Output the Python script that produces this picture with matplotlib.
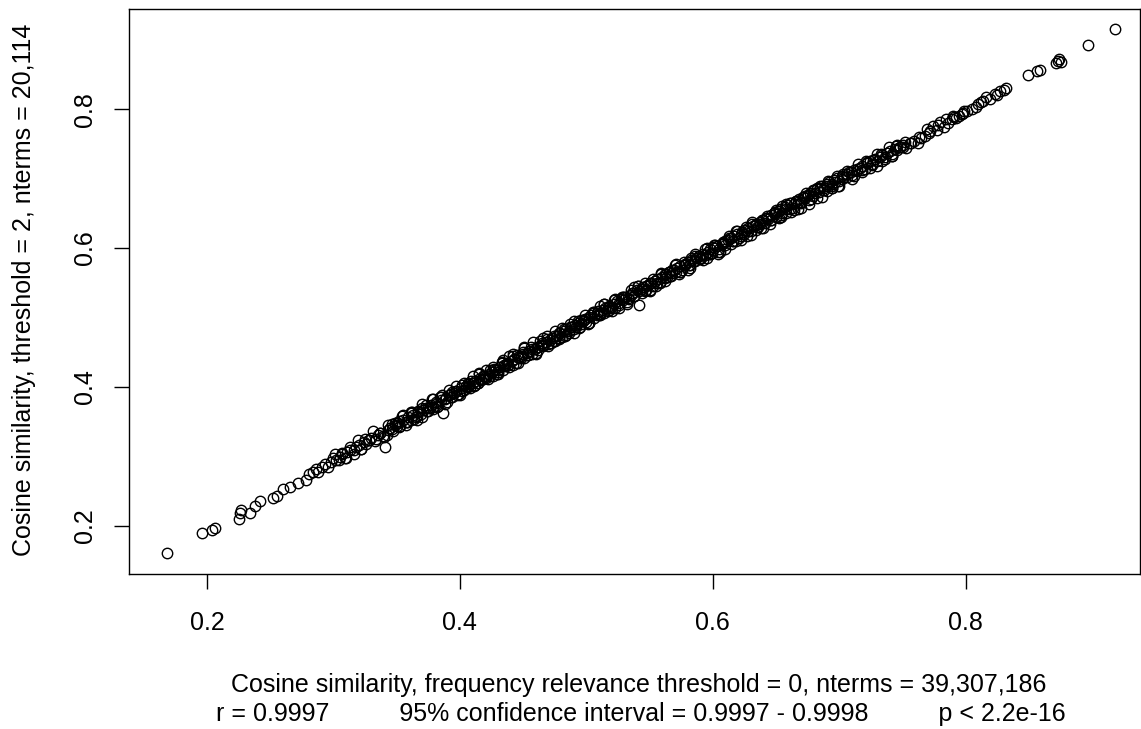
#!/usr/bin/env python3
"""Cosine similarity: threshold 0 vs threshold 2 (R base-graphics look)."""
import matplotlib
matplotlib.use("Agg")
import matplotlib.pyplot as plt

plt.rcParams["font.family"] = ["Liberation Sans", "DejaVu Sans"]

# x: cosine similarity, frequency relevance threshold = 0
# y: cosine similarity, threshold = 2
# points
xs_line = [
    0.168, 0.196, 0.204, 0.206, 0.225, 0.226, 0.227, 0.234, 0.238, 0.242,
    0.252, 0.255, 0.260, 0.266, 0.272, 0.278,
    0.281, 0.284, 0.286, 0.288, 0.291, 0.293, 0.296, 0.298, 0.300, 0.302,
    0.305, 0.307, 0.309, 0.311, 0.313, 0.316, 0.318, 0.320, 0.322, 0.324,
    0.326, 0.328, 0.330, 0.333, 0.335, 0.337, 0.339, 0.341, 0.343, 0.345,
    0.347, 0.349, 0.351, 0.353, 0.355, 0.357, 0.359, 0.361, 0.363, 0.365,
    0.367, 0.369, 0.371, 0.373, 0.375, 0.377, 0.379, 0.381, 0.383, 0.385,
    0.387, 0.389, 0.391, 0.393, 0.395, 0.397, 0.399, 0.401, 0.403, 0.405,
    0.407, 0.408, 0.410, 0.412, 0.414, 0.415, 0.417, 0.419, 0.421, 0.423,
    0.425, 0.426, 0.428, 0.430, 0.432, 0.434, 0.435, 0.437, 0.439, 0.441,
    0.443, 0.444, 0.446, 0.448, 0.450, 0.451, 0.453, 0.455, 0.457, 0.459,
    0.461, 0.462, 0.464, 0.466, 0.468, 0.470, 0.471, 0.473, 0.475, 0.477,
    0.479, 0.481, 0.482, 0.484, 0.486, 0.488, 0.490, 0.491, 0.493, 0.495,
    0.497, 0.499, 0.500, 0.502, 0.504, 0.506, 0.508, 0.509, 0.511, 0.513,
    0.515, 0.517, 0.518, 0.520, 0.522, 0.524, 0.526, 0.527, 0.529, 0.531,
    0.533, 0.535, 0.536, 0.538, 0.540, 0.542, 0.544, 0.545, 0.547, 0.549,
    0.551, 0.553, 0.554, 0.556, 0.558, 0.560, 0.562, 0.563, 0.565, 0.567,
    0.569, 0.571, 0.572, 0.574, 0.576, 0.578, 0.580, 0.581, 0.583, 0.585,
    0.587, 0.589, 0.590, 0.592, 0.594, 0.596, 0.598, 0.599, 0.601, 0.603,
    0.605, 0.607, 0.608, 0.610, 0.612, 0.614, 0.616, 0.617, 0.619, 0.621,
    0.623, 0.625, 0.626, 0.628, 0.630, 0.632, 0.634, 0.635, 0.637, 0.639,
    0.641, 0.643, 0.644, 0.646, 0.648, 0.650, 0.652, 0.653, 0.655, 0.657,
    0.659, 0.661, 0.662, 0.664, 0.666, 0.668, 0.670, 0.671, 0.673, 0.675,
    0.677, 0.679, 0.680, 0.682, 0.684, 0.686, 0.688, 0.690, 0.692, 0.694,
    0.696, 0.698, 0.700, 0.702, 0.704, 0.706, 0.708, 0.710, 0.712, 0.714,
    0.716, 0.718, 0.720, 0.722, 0.724, 0.726, 0.728, 0.730, 0.732, 0.734,
    0.736, 0.738, 0.740, 0.742, 0.744, 0.746, 0.748, 0.750, 0.753, 0.756,
    0.759, 0.762, 0.765, 0.768, 0.771, 0.774, 0.777, 0.780, 0.783, 0.786,
    0.789, 0.790, 0.792, 0.795, 0.798, 0.801, 0.805, 0.808, 0.810, 0.812,
    0.814, 0.816, 0.819, 0.823, 0.825, 0.827, 0.830, 0.832, 0.849, 0.856,
    0.859, 0.871, 0.873, 0.874, 0.875, 0.897, 0.918,
]
ys_line = [
    0.160, 0.190, 0.194, 0.197, 0.210, 0.218, 0.222, 0.219, 0.229, 0.235,
    0.240, 0.243, 0.253, 0.256, 0.262, 0.266,
    0.274, 0.278, 0.281, 0.277, 0.285, 0.289, 0.284, 0.292, 0.297, 0.294,
    0.299, 0.303, 0.298, 0.306, 0.309, 0.304, 0.313, 0.316, 0.311, 0.320,
    0.318, 0.324, 0.327, 0.322, 0.331, 0.334, 0.329, 0.313, 0.338, 0.341,
    0.336, 0.345, 0.348, 0.343, 0.352, 0.349, 0.356, 0.353, 0.360, 0.357,
    0.364, 0.361, 0.367, 0.370, 0.365, 0.374, 0.371, 0.378, 0.373, 0.381,
    0.362, 0.384, 0.388, 0.385, 0.391, 0.394, 0.390, 0.398, 0.396, 0.401,
    0.404, 0.399, 0.406, 0.409, 0.405, 0.412, 0.410, 0.415, 0.413, 0.418,
    0.421, 0.416, 0.424, 0.422, 0.428, 0.425, 0.431, 0.434, 0.429, 0.437,
    0.440, 0.435, 0.443, 0.441, 0.447, 0.456, 0.449, 0.452, 0.448, 0.455,
    0.458, 0.453, 0.461, 0.459, 0.465, 0.462, 0.468, 0.471, 0.466, 0.474,
    0.477, 0.472, 0.480, 0.483, 0.478, 0.486, 0.484, 0.489, 0.492, 0.487,
    0.495, 0.498, 0.493, 0.500, 0.503, 0.499, 0.506, 0.509, 0.504, 0.511,
    0.514, 0.510, 0.517, 0.515, 0.520, 0.524, 0.518, 0.527, 0.525, 0.530,
    0.528, 0.533, 0.536, 0.531, 0.539, 0.518, 0.541, 0.544, 0.539, 0.547,
    0.550, 0.545, 0.553, 0.556, 0.551, 0.559, 0.557, 0.562, 0.565, 0.560,
    0.568, 0.566, 0.571, 0.574, 0.569, 0.577, 0.580, 0.575, 0.583, 0.581,
    0.586, 0.589, 0.584, 0.592, 0.590, 0.595, 0.598, 0.593, 0.600, 0.603,
    0.599, 0.606, 0.609, 0.604, 0.611, 0.614, 0.610, 0.617, 0.620, 0.615,
    0.623, 0.621, 0.626, 0.629, 0.624, 0.632, 0.635, 0.630, 0.638, 0.641,
    0.636, 0.644, 0.642, 0.647, 0.650, 0.645, 0.653, 0.656, 0.651, 0.659,
    0.662, 0.657, 0.665, 0.663, 0.668, 0.671, 0.666, 0.674, 0.672, 0.677,
    0.680, 0.675, 0.683, 0.686, 0.681, 0.689, 0.687, 0.692, 0.695, 0.690,
    0.698, 0.701, 0.696, 0.704, 0.702, 0.707, 0.710, 0.705, 0.713, 0.711,
    0.716, 0.719, 0.714, 0.722, 0.725, 0.720, 0.728, 0.726, 0.731, 0.734,
    0.729, 0.737, 0.740, 0.735, 0.743, 0.741, 0.746, 0.749, 0.744, 0.752,
    0.755, 0.751, 0.758, 0.762, 0.766, 0.776, 0.770, 0.782, 0.775, 0.780,
    0.786, 0.790, 0.788, 0.790, 0.795, 0.798, 0.801, 0.804, 0.807, 0.810,
    0.812, 0.817, 0.815, 0.822, 0.820, 0.826, 0.828, 0.830, 0.849, 0.855,
    0.857, 0.866, 0.869, 0.872, 0.868, 0.892, 0.916,
]
# extra points filling the thick middle of the band
xs_band = [
    0.301, 0.304, 0.307, 0.310, 0.313, 0.316, 0.319, 0.322, 0.325, 0.328,
    0.331, 0.334, 0.337, 0.340, 0.343, 0.346, 0.349, 0.352, 0.355, 0.358,
    0.361, 0.364, 0.367, 0.370, 0.373, 0.376, 0.379, 0.382, 0.385, 0.388,
    0.391, 0.394, 0.397, 0.400, 0.403, 0.406, 0.409, 0.412, 0.415, 0.418,
    0.421, 0.424, 0.427, 0.430, 0.433, 0.436, 0.439, 0.442, 0.445, 0.448,
    0.451, 0.454, 0.457, 0.460, 0.463, 0.466, 0.469, 0.472, 0.475, 0.478,
    0.481, 0.484, 0.487, 0.490, 0.493, 0.496, 0.499, 0.502, 0.505, 0.508,
    0.511, 0.514, 0.517, 0.520, 0.523, 0.526, 0.529, 0.532, 0.535, 0.538,
    0.541, 0.544, 0.547, 0.550, 0.553, 0.556, 0.559, 0.562, 0.565, 0.568,
    0.571, 0.574, 0.577, 0.580, 0.583, 0.586, 0.589, 0.592, 0.595, 0.598,
    0.601, 0.604, 0.607, 0.610, 0.613, 0.616, 0.619, 0.622, 0.625, 0.628,
    0.631, 0.634, 0.637, 0.640, 0.643, 0.646, 0.649, 0.652, 0.655, 0.658,
    0.661, 0.664, 0.667, 0.670, 0.673, 0.676, 0.679, 0.682, 0.685, 0.688,
    0.691, 0.694, 0.697, 0.700, 0.703, 0.706, 0.709, 0.712, 0.715, 0.718,
    0.721, 0.724, 0.727, 0.730, 0.733, 0.736, 0.739, 0.742, 0.745, 0.748,
    0.752, 0.757, 0.763, 0.769, 0.772, 0.778, 0.784, 0.791, 0.797, 0.799,
]
ys_band = [
    0.304, 0.294, 0.305, 0.297, 0.314, 0.309, 0.323, 0.311, 0.325, 0.323,
    0.336, 0.325, 0.334, 0.328, 0.345, 0.340, 0.348, 0.342, 0.359, 0.350,
    0.364, 0.354, 0.365, 0.357, 0.374, 0.369, 0.383, 0.371, 0.385, 0.383,
    0.396, 0.385, 0.394, 0.389, 0.406, 0.401, 0.409, 0.403, 0.420, 0.411,
    0.425, 0.415, 0.426, 0.418, 0.435, 0.430, 0.444, 0.432, 0.446, 0.444,
    0.457, 0.446, 0.455, 0.449, 0.466, 0.461, 0.469, 0.463, 0.480, 0.471,
    0.485, 0.475, 0.486, 0.478, 0.495, 0.490, 0.504, 0.492, 0.506, 0.504,
    0.517, 0.506, 0.515, 0.509, 0.526, 0.521, 0.529, 0.523, 0.540, 0.531,
    0.545, 0.535, 0.546, 0.538, 0.555, 0.550, 0.564, 0.552, 0.566, 0.564,
    0.577, 0.566, 0.575, 0.569, 0.586, 0.581, 0.589, 0.583, 0.600, 0.591,
    0.605, 0.595, 0.606, 0.598, 0.615, 0.610, 0.624, 0.612, 0.626, 0.624,
    0.637, 0.626, 0.635, 0.629, 0.646, 0.641, 0.649, 0.643, 0.660, 0.651,
    0.665, 0.655, 0.666, 0.658, 0.675, 0.670, 0.684, 0.672, 0.686, 0.684,
    0.697, 0.686, 0.695, 0.689, 0.707, 0.702, 0.710, 0.704, 0.721, 0.712,
    0.726, 0.716, 0.727, 0.719, 0.736, 0.731, 0.745, 0.733, 0.747, 0.745,
    0.753, 0.751, 0.760, 0.771, 0.768, 0.777, 0.786, 0.789, 0.793, 0.797,
]
xs_core = [
    0.342, 0.346, 0.350, 0.354, 0.358, 0.362, 0.366, 0.370, 0.374, 0.378,
    0.382, 0.386, 0.390, 0.394, 0.398, 0.402, 0.406, 0.410, 0.414, 0.418,
    0.422, 0.426, 0.430, 0.434, 0.438, 0.442, 0.446, 0.450, 0.454, 0.458,
    0.462, 0.466, 0.470, 0.474, 0.478, 0.482, 0.486, 0.490, 0.494, 0.498,
    0.502, 0.506, 0.510, 0.514, 0.518, 0.522, 0.526, 0.530, 0.534, 0.538,
    0.542, 0.546, 0.550, 0.554, 0.558, 0.562, 0.566, 0.570, 0.574, 0.578,
    0.582, 0.586, 0.590, 0.594, 0.598, 0.602, 0.606, 0.610, 0.614, 0.618,
    0.622, 0.626, 0.630, 0.634, 0.638, 0.642, 0.646, 0.650, 0.654, 0.658,
    0.662, 0.666, 0.670, 0.674, 0.678, 0.682, 0.686, 0.690, 0.694, 0.698,
    0.702, 0.706, 0.710, 0.714, 0.718, 0.722, 0.726, 0.730, 0.734, 0.738,
    0.742, 0.746, 0.750,
]
ys_core = [
    0.331, 0.347, 0.344, 0.358, 0.350, 0.364, 0.353, 0.369, 0.365, 0.383,
    0.377, 0.389, 0.378, 0.392, 0.388, 0.403, 0.400, 0.415, 0.405, 0.416,
    0.412, 0.428, 0.425, 0.439, 0.431, 0.445, 0.434, 0.450, 0.446, 0.464,
    0.458, 0.470, 0.459, 0.473, 0.469, 0.483, 0.480, 0.495, 0.485, 0.496,
    0.492, 0.508, 0.505, 0.519, 0.511, 0.525, 0.514, 0.530, 0.526, 0.544,
    0.538, 0.550, 0.539, 0.553, 0.549, 0.563, 0.560, 0.575, 0.565, 0.576,
    0.572, 0.588, 0.585, 0.599, 0.591, 0.605, 0.594, 0.610, 0.606, 0.624,
    0.618, 0.630, 0.619, 0.633, 0.629, 0.643, 0.640, 0.655, 0.645, 0.656,
    0.652, 0.668, 0.665, 0.679, 0.671, 0.685, 0.674, 0.690, 0.686, 0.704,
    0.699, 0.711, 0.700, 0.714, 0.710, 0.724, 0.721, 0.736, 0.726, 0.737,
    0.733, 0.749, 0.746,
]
xs_fill = [
    0.352, 0.357, 0.361, 0.366, 0.370, 0.375, 0.379, 0.384, 0.388, 0.393,
    0.397, 0.402, 0.406, 0.411, 0.415, 0.420, 0.424, 0.429, 0.433, 0.438,
    0.442, 0.447, 0.451, 0.456, 0.460, 0.465, 0.469, 0.474, 0.478, 0.483,
    0.487, 0.492, 0.496, 0.501, 0.505, 0.510, 0.514, 0.519, 0.523, 0.528,
    0.532, 0.537, 0.541, 0.546, 0.550, 0.555, 0.559, 0.564, 0.568, 0.573,
    0.577, 0.582, 0.586, 0.591, 0.595, 0.600, 0.604, 0.609, 0.613, 0.618,
    0.622, 0.627, 0.631, 0.636, 0.640, 0.645, 0.649, 0.654, 0.658, 0.663,
    0.667, 0.672, 0.676, 0.681, 0.685, 0.690, 0.694, 0.699,
]
ys_fill = [
    0.351, 0.345, 0.363, 0.358, 0.375, 0.369, 0.368, 0.385, 0.375, 0.390,
    0.401, 0.394, 0.405, 0.402, 0.419, 0.414, 0.424, 0.418, 0.436, 0.431,
    0.448, 0.442, 0.441, 0.458, 0.448, 0.463, 0.474, 0.466, 0.477, 0.474,
    0.491, 0.486, 0.496, 0.490, 0.508, 0.503, 0.520, 0.514, 0.513, 0.530,
    0.520, 0.535, 0.546, 0.538, 0.549, 0.546, 0.563, 0.558, 0.568, 0.562,
    0.580, 0.575, 0.592, 0.586, 0.585, 0.602, 0.592, 0.607, 0.618, 0.610,
    0.621, 0.618, 0.635, 0.630, 0.640, 0.634, 0.652, 0.647, 0.664, 0.658,
    0.657, 0.674, 0.664, 0.679, 0.690, 0.682, 0.693, 0.690,
]
ticks = [0.2, 0.4, 0.6, 0.8]

xlab = "Cosine similarity, frequency relevance threshold = 0, nterms = 39,307,186"
stats = "r = 0.9997          95% confidence interval = 0.9997 - 0.9998          p < 2.2e-16"
ylab = "Cosine similarity, threshold = 2, nterms = 20,114"


def main():
    W, H = 1141, 729
    fig = plt.figure(figsize=(W / 100, H / 100), dpi=100)
    ax = fig.add_axes([129 / W, 1 - 574 / H, 1011 / W, 565 / H])

    groups = [(xs_line, ys_line), (xs_band, ys_band),
              (xs_core, ys_core), (xs_fill, ys_fill)]
    for xs, ys in groups:
        ax.plot(xs, ys, linestyle="none", marker="o", markersize=7.5,
                markerfacecolor="none", markeredgecolor="black",
                markeredgewidth=1.0)

    ax.set_xlim(0.1383, 0.9378)
    ax.set_ylim(0.1304, 0.9445)

    ax.set_xticks(ticks)
    ax.set_yticks(ticks)
    ax.set_xticklabels([f"{t:.1f}" for t in ticks])
    ax.set_yticklabels([f"{t:.1f}" for t in ticks], rotation=90, va="center")
    ax.tick_params(direction="out", length=11, width=1, labelsize=18)
    ax.tick_params(axis="x", pad=16)
    ax.tick_params(axis="y", pad=12)
    for s in ax.spines.values():
        s.set_linewidth(1)

    fig.text(639 / W, 1 - 685 / H, xlab, ha="center", va="center", fontsize=18)
    fig.text(641 / W, 1 - 714 / H, stats, ha="center", va="center", fontsize=18)
    fig.text(24 / W, 1 - 290 / H, ylab, ha="center", va="center",
             rotation=90, fontsize=18)

    fig.savefig("out.png", dpi=100)


if __name__ == "__main__":
    main()
